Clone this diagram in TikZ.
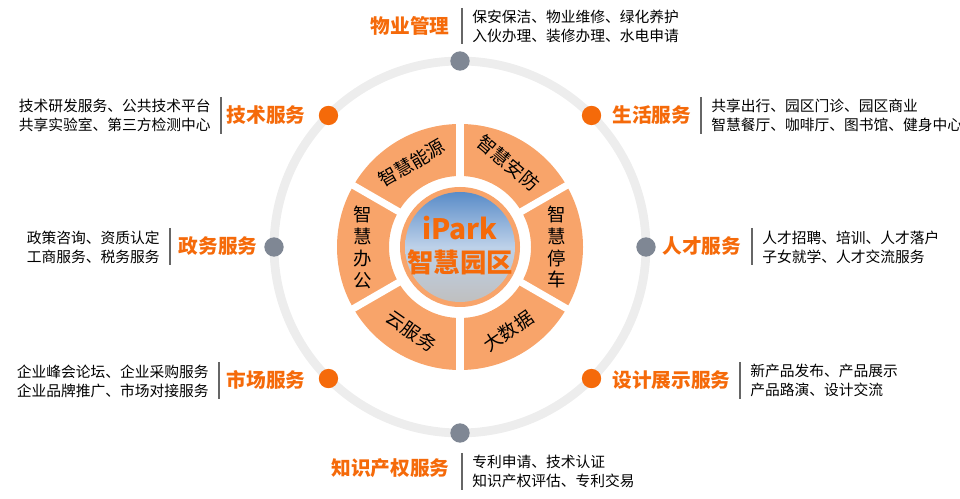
\documentclass[tikz,border=0pt]{standalone}
\usepackage{fontspec}
\setmainfont{Noto Sans CJK SC}
\usetikzlibrary{positioning,calc}
\definecolor{orng}{HTML}{F56A0A}
\definecolor{seg}{HTML}{F8A46A}
\definecolor{dotgray}{HTML}{7F8794}
\definecolor{skyb}{HTML}{5A8CC8}
\tikzset{
  title/.style={text=orng,font=\bfseries\fontsize{11.2}{12}\selectfont,inner sep=0pt},
  body/.style={font=\fontsize{8.4}{10.8}\selectfont,align=left,inner sep=0pt},
  sepline/.style={draw=black!60,line width=0.6pt},
  odot/.style={circle,fill=orng,minimum size=11pt,inner sep=0pt},
  gdot/.style={circle,fill=dotgray,minimum size=11pt,inner sep=0pt},
  segtext/.style={font=\fontsize{10.5}{12.5}\selectfont,align=center,inner sep=0pt}
}
\begin{document}
\begin{tikzpicture}[x=0.02cm,y=-0.02cm]
\useasboundingbox (0,0) rectangle (960,499);
\coordinate (c) at (460,247);
% outer ring
\draw[line width=5pt,black!7] (c) circle[radius=186];
% segments
\fill[seg,even odd rule] (c) circle[radius=123] (c) circle[radius=71];
\foreach \a in {30,90,...,330}
  \draw[white,line width=4pt] (c) -- ($(c)+(-\a:130)$);
% centre picture
\fill[white] (c) circle[radius=66];
\fill[seg] (c) circle[radius=60];
\shade[top color=skyb,bottom color=black!25,middle color=skyb!40] (c) circle[radius=55];
\node[text=orng,font=\bfseries\fontsize{16}{17}\selectfont,inner sep=0pt] (ipark) at (460,228) {iPark};
\node[text=orng,font=\bfseries\fontsize{15}{16}\selectfont,inner sep=0pt] (zhyq) at (460,262) {智慧园区};
% segment labels
\node[segtext,rotate=30] (nengyuan) at ($(c)+(-120:97)$) {智慧能源};
\node[segtext,rotate=-40] (anfang) at ($(c)+(-60:97)$) {智慧安防};
\node[segtext] (tingche) at ($(c)+(0:97)$) {智\\慧\\停\\车};
\node[segtext,rotate=35] (dashuju) at ($(c)+(60:97)$) {大数据};
\node[segtext,rotate=-35] (yunfuwu) at ($(c)+(120:97)$) {云服务};
\node[segtext] (bangong) at ($(c)+(180:97)$) {智\\慧\\办\\公};
% dots on the ring
\node[gdot] (d1) at ($(c)+(-90:186)$) {};
\node[odot] (d2) at ($(c)+(-45:186)$) {};
\node[gdot] (d3) at ($(c)+(0:186)$) {};
\node[odot] (d4) at ($(c)+(45:186)$) {};
\node[gdot] (d5) at ($(c)+(90:186)$) {};
\node[odot] (d6) at ($(c)+(135:186)$) {};
\node[gdot] (d7) at ($(c)+(180:186)$) {};
\node[odot] (d8) at ($(c)+(-135:186)$) {};
% titles
\node[title,anchor=east] (wuye) at (450,26) {物业管理};
\node[title,anchor=west] (shenghuo) at (612,115) {生活服务};
\node[title,anchor=west] (rencai) at (662,246) {人才服务};
\node[title,anchor=west] (sheji) at (612,380) {设计展示服务};
\node[title,anchor=east] (zhishi) at (450,468) {知识产权服务};
\node[title,anchor=east] (shichang) at (306,380) {市场服务};
\node[title,anchor=east] (zhengwu) at (258,246) {政务服务};
\node[title,anchor=east] (jishu) at (306,115) {技术服务};
% separators and text blocks
\draw[sepline] (462,8) -- (462,44);
\node[body,anchor=west] (wuyet) at (472,26) {保安保洁、物业维修、绿化养护\\入伙办理、装修办理、水电申请};
\draw[sepline] (701,97) -- (701,134);
\node[body,anchor=west] (shenghuot) at (711,115) {共享出行、园区门诊、园区商业\\智慧餐厅、咖啡厅、图书馆、健身中心};
\draw[sepline] (752,228) -- (752,265);
\node[body,anchor=west] (rencait) at (762,247) {人才招聘、培训、人才落户\\子女就学、人才交流服务};
\draw[sepline] (740,362) -- (740,399);
\node[body,anchor=west] (shejit) at (750,380) {新产品发布、产品展示\\产品路演、设计交流};
\draw[sepline] (462,453) -- (462,490);
\node[body,anchor=west] (zhishit) at (472,471) {专利申请、技术认证\\知识产权评估、专利交易};
\draw[sepline] (219,362) -- (219,399);
\node[body,anchor=east] (shichangt) at (209,381) {企业峰会论坛、企业采购服务\\企业品牌推广、市场对接服务};
\draw[sepline] (170,228) -- (170,265);
\node[body,anchor=east,align=right] (zhengwut) at (160,247) {政策咨询、资质认定\\工商服务、税务服务};
\draw[sepline] (221,97) -- (221,134);
\node[body,anchor=east] (jishut) at (211,115) {技术研发服务、公共技术平台\\共享实验室、第三方检测中心};
\end{tikzpicture}
\end{document}
